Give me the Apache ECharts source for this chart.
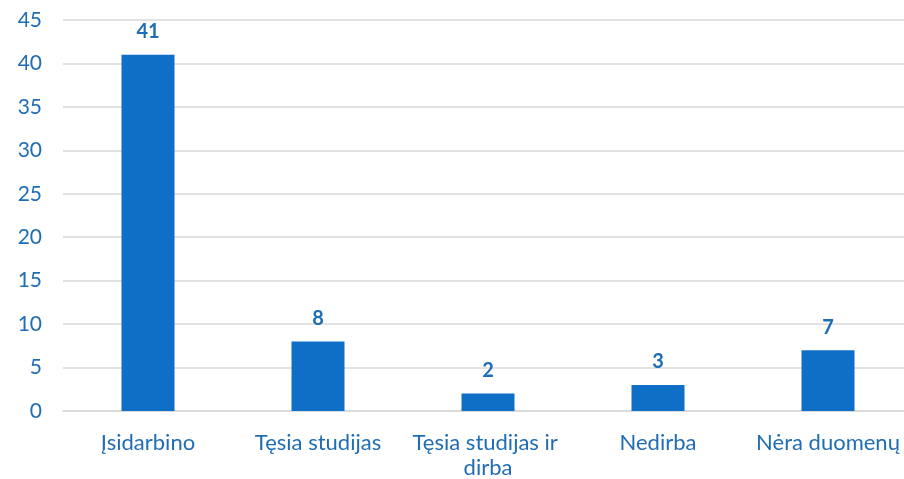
<!DOCTYPE html>
<html>
<head>
<meta charset="utf-8">
<script src="https://cdn.jsdelivr.net/npm/echarts@6/dist/echarts.min.js"></script>
<style>
  html, body { margin: 0; padding: 0; background: #fff; }
  #chart { width: 904px; height: 479px; }
</style>
</head>
<body>
<div id="chart"></div>
<script>
// Categories and counts
const categories = ['Įsidarbino', 'Tęsia studijas', 'Tęsia studijas ir dirba', 'Nedirba', 'Nėra duomenų'];
const counts = [41, 8, 2, 3, 7];

const barColor = '#0F6FC6';
const textColor = '#1F6DB4';
const gridColor = '#D9D9D9';
const fontFamily = 'Lato, "Open Sans", sans-serif';

const chart = echarts.init(document.getElementById('chart'));
chart.setOption({
  animation: false,
  // plot runs a little past the right edge, like the reference
  grid: { left: 63, width: 850, top: 20, bottom: 68, outerBoundsMode: 'none' },
  xAxis: {
    type: 'category',
    data: categories,
    axisLine: { show: true, lineStyle: { color: gridColor, width: 1.5 } },
    axisTick: { show: false },
    axisLabel: {
      color: textColor,
      fontFamily: fontFamily,
      fontSize: 22,
      margin: 19,
      lineHeight: 25,
      width: 165,
      overflow: 'break',
      interval: 0
    }
  },
  yAxis: {
    type: 'value',
    min: 0,
    max: 45,
    interval: 5,
    axisLine: { show: false },
    axisTick: { show: false },
    axisLabel: {
      color: textColor,
      fontFamily: fontFamily,
      fontSize: 21,
      margin: 21
    },
    splitLine: { lineStyle: { color: gridColor, width: 1.5 } }
  },
  series: [{
    type: 'bar',
    data: counts,
    barWidth: 53,
    itemStyle: { color: barColor },
    label: {
      show: true,
      position: 'top',
      distance: 13,
      color: textColor,
      fontFamily: fontFamily,
      fontSize: 20,
      fontWeight: 'bold'
    }
  }]
});
</script>
</body>
</html>
